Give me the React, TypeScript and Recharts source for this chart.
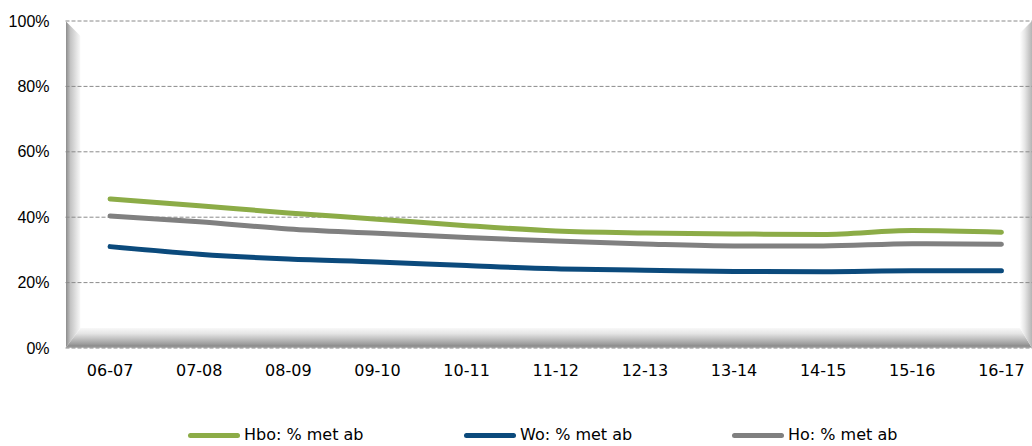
import { LineChart, Line, XAxis, YAxis, CartesianGrid, Legend } from 'recharts'

const years = ['06-07', '07-08', '08-09', '09-10', '10-11', '11-12', '12-13', '13-14', '14-15', '15-16', '16-17']
const hbo = [45.6, 43.5, 41.3, 39.4, 37.4, 35.8, 35.2, 34.9, 34.7, 35.9, 35.4]
const wo = [31.0, 28.7, 27.2, 26.3, 25.2, 24.2, 23.8, 23.4, 23.3, 23.6, 23.6]
const ho = [40.4, 38.6, 36.4, 35.1, 33.8, 32.7, 31.8, 31.2, 31.2, 31.9, 31.7]
const yTicks = [0, 20, 40, 60, 80, 100]

const series = [
  { key: 'hbo', name: 'Hbo: % met ab', color: '#8cac47', left: 188 },
  { key: 'wo', name: 'Wo: % met ab', color: '#0b4a7c', left: 464 },
  { key: 'ho', name: 'Ho: % met ab', color: '#808080', left: 732 },
]

const chartData = years.map((y, i) => ({ name: y, hbo: hbo[i], wo: wo[i], ho: ho[i] }))

// plot box in page pixels
const PL = 65.5
const PT = 21
const PB = 348

function LegendRow() {
  return (
    <div style={{ position: 'relative', width: 1046, height: 40 }}>
      {series.map(s => (
        <div key={s.key} style={{ position: 'absolute', left: s.left, top: 20, display: 'flex', alignItems: 'center' }}>
          <div style={{ width: 52, height: 5, borderRadius: 3, background: s.color }} />
          <span style={{ marginLeft: 4, fontFamily: 'DejaVu Sans', fontSize: 16, color: '#000', lineHeight: '18px' }}>{s.name}</span>
        </div>
      ))}
    </div>
  )
}

export default function App() {
  const h = PB - PT
  return (
    <div style={{ position: 'absolute', left: 0, top: 0, width: 1032, height: 446, overflow: 'hidden', background: '#fff' }}>
      {/* inner shadow of the plot area */}
      <div style={{
        position: 'absolute', left: PL, top: PT, width: 15, height: h,
        background: 'linear-gradient(to right, #8c8c8c, #c4c4c4 30%, #f4f4f4 90%, #fff)',
        clipPath: `polygon(0 0, 15px 15px, 15px ${h - 20}px, 0 ${h}px)`,
      }} />
      <div style={{
        position: 'absolute', left: PL, top: PB - 22, width: 1032 - PL, height: 22,
        background: 'linear-gradient(to bottom, #fff, #e4e4e4 35%, #a0a0a0 80%, #8a8a8a 92%, #c8c8c8)',
        clipPath: `polygon(0 22px, 15px 2px, ${1032 - PL - 12}px 2px, ${1032 - PL}px 22px)`,
      }} />
      <div style={{
        position: 'absolute', left: 1020, top: PT, width: 12, height: h,
        background: 'linear-gradient(to right, #fff, #e6e6e6 40%, #b4b4b4)',
        clipPath: `polygon(0 12px, 12px 0, 12px ${h}px, 0 ${h - 20}px)`,
      }} />
      <div style={{ position: 'relative' }}>
        <LineChart width={1046} height={446} data={chartData} margin={{ top: PT, right: 0, bottom: 0, left: 0 }}>
          <CartesianGrid vertical={false} stroke="#8a8a8a" strokeDasharray="4 2" />
          <XAxis
            dataKey="name"
            scale="band"
            height={58}
            axisLine={false}
            tickLine={false}
            tickSize={0}
            tickMargin={17}
            tick={{ fill: '#000', fontSize: 16, fontFamily: 'DejaVu Sans' }}
            interval={0}
          />
          <YAxis
            width={PL}
            domain={[0, 100]}
            ticks={yTicks}
            tickFormatter={(v: number) => `${v}%`}
            axisLine={false}
            tickLine={false}
            tickSize={0}
            tickMargin={16}
            tick={{ fill: '#000', fontSize: 16, fontFamily: 'Liberation Sans' }}
          />
          <Legend
            verticalAlign="bottom"
            content={() => <LegendRow />}
            wrapperStyle={{ left: 0, top: 406, width: 1046, height: 40 }}
          />
          {series.map(s => (
            <Line
              key={s.key}
              type="monotone"
              dataKey={s.key}
              name={s.name}
              stroke={s.color}
              strokeWidth={5}
              strokeLinecap="round"
              dot={false}
              activeDot={false}
              isAnimationActive={false}
            />
          ))}
        </LineChart>
      </div>
    </div>
  )
}
